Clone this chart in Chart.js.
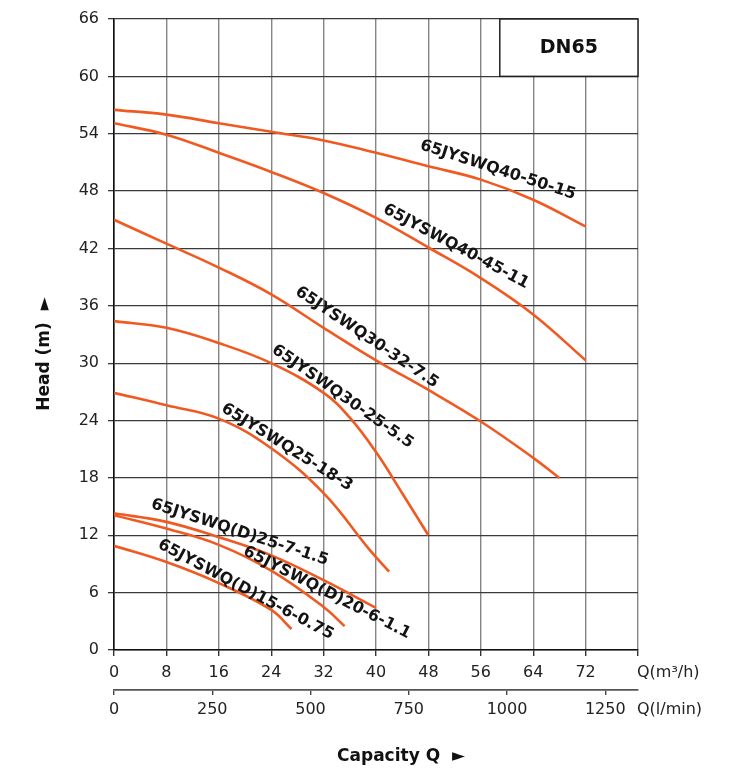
<!DOCTYPE html>
<html><head><meta charset="utf-8">
<script src="https://cdn.jsdelivr.net/npm/chart.js@4"></script>
<style>html,body{margin:0;padding:0;background:#fff}#wrap{width:738px;height:769px}</style>
</head><body><div id="wrap"><canvas id="c" width="738" height="769"></canvas></div>
<script>
// ---- data (Q in m3/h, H in m) ----
const seriesNames = ["65JYSWQ40-50-15","65JYSWQ40-45-11","65JYSWQ30-32-7.5","65JYSWQ30-25-5.5","65JYSWQ25-18-3","65JYSWQ(D)25-7-1.5","65JYSWQ(D)20-6-1.1","65JYSWQ(D)15-6-0.75"];
const q_40_50_15 = [0, 8, 16, 24, 32, 40, 48, 56, 64, 72];
const h_40_50_15 = [56.5, 56.0, 55.1, 54.2, 53.3, 52.0, 50.6, 49.2, 47.1, 44.3];
const q_40_45_11 = [0, 8, 16, 24, 32, 40, 48, 56, 64, 72];
const h_40_45_11 = [55.1, 53.9, 52.0, 50.0, 47.8, 45.2, 42.1, 38.9, 35.1, 30.3];
const q_30_32_75 = [0, 8, 16, 24, 32, 40, 48, 56, 64, 68];
const h_30_32_75 = [45.0, 42.5, 40.0, 37.2, 33.7, 30.3, 27.2, 23.9, 20.1, 18.0];
const q_30_25_55 = [0, 8, 16, 24, 32, 36, 40, 44, 48];
const h_30_25_55 = [34.4, 33.7, 32.1, 30.0, 26.9, 24.3, 20.7, 16.4, 12.0];
const q_25_18_3 = [0, 8, 16, 24, 32, 39, 42];
const h_25_18_3 = [26.9, 25.6, 24.2, 21.1, 16.4, 10.5, 8.2];
const q_d25_7_15 = [0, 8, 16, 24, 32, 40];
const h_d25_7_15 = [14.3, 13.4, 11.8, 9.9, 7.3, 4.4];
const q_d20_6_11 = [0, 8, 16, 24, 32, 35.2];
const h_d20_6_11 = [14.1, 12.7, 11.0, 8.3, 4.5, 2.5];
const q_d15_6_075 = [0, 8, 16, 24, 27.1];
const h_d15_6_075 = [10.9, 9.2, 7.0, 4.2, 2.2];
const xTicksM3h = [0, 8, 16, 24, 32, 40, 48, 56, 64, 72, 80];
const xTicksLmin = [0, 250, 500, 750, 1000, 1250];
const yTicks = [0, 6, 12, 18, 24, 30, 36, 42, 48, 54, 60, 66];
// label anchors in data units (Q, H) and rotation in degrees
const labelQ = [58.6, 52.2, 38.6, 34.9, 26.4, 19.2, 32.5, 20.1];
const labelH = [50.2, 42.2, 32.7, 26.5, 21.2, 12.3, 6.0, 6.3];
const labelAngle = [18, 28, 34, 35, 32, 18, 27, 28];

const allQ = [q_40_50_15,q_40_45_11,q_30_32_75,q_30_25_55,q_25_18_3,q_d25_7_15,q_d20_6_11,q_d15_6_075];
const allH = [h_40_50_15,h_40_45_11,h_30_32_75,h_30_25_55,h_25_18_3,h_d25_7_15,h_d20_6_11,h_d15_6_075];
const ORANGE = '#f05a22';
const datasets = allQ.map((qs,i)=>({
  label: seriesNames[i],
  data: qs.map((q,j)=>({x:q, y:allH[i][j]})),
  borderColor: ORANGE, borderWidth: 2.6, pointRadius: 0, showLine: true,
  tension: 0.4, fill: false
}));

const FONT = '"DejaVu Sans", sans-serif';
const overlay = {
  id: 'overlay',
  beforeDatasetsDraw(chart){
    const {ctx, scales:{x,y}} = chart;
    const l = x.getPixelForValue(58.9), r = x.getPixelForValue(80);
    const t = y.getPixelForValue(66), b = y.getPixelForValue(60);
    ctx.save();
    ctx.fillStyle = '#fff'; ctx.fillRect(l, t, r-l, b-t);
    ctx.strokeStyle = '#222'; ctx.lineWidth = 1.5; ctx.strokeRect(l, t, r-l, b-t);
    ctx.fillStyle = '#111'; ctx.font = 'bold 19px ' + FONT;
    ctx.textAlign = 'center'; ctx.textBaseline = 'middle';
    ctx.fillText('DN65', (l+r)/2, (t+b)/2);
    ctx.restore();
  },
  afterDatasetsDraw(chart){
    const {ctx, scales:{x,y,x2}} = chart;
    ctx.save();
    ctx.fillStyle = '#141414';
    ctx.font = 'bold 16px ' + FONT;
    ctx.textAlign = 'center'; ctx.textBaseline = 'middle';
    seriesNames.forEach((n,i)=>{
      ctx.save();
      ctx.translate(x.getPixelForValue(labelQ[i]), y.getPixelForValue(labelH[i]));
      ctx.rotate(labelAngle[i]*Math.PI/180);
      ctx.fillText(n, 0, 0);
      ctx.restore();
    });
    ctx.font = '16px ' + FONT; ctx.fillStyle = '#222'; ctx.textAlign = 'left';
    const xr = x.getPixelForValue(80);
    ctx.fillText('Q(m³/h)', xr - 1, y.getPixelForValue(0) + 23);
    ctx.fillText('Q(l/min)', xr - 1, x2.top + 20);
    ctx.font = 'bold 17px ' + FONT; ctx.fillStyle = '#111'; ctx.textAlign = 'center';
    ctx.fillText('Capacity Q  \u25BA', 401, 757);
    ctx.save();
    ctx.translate(45, 354); ctx.rotate(-Math.PI/2);
    ctx.fillText('Head (m)  \u25BA', 0, 0);
    ctx.restore();
    ctx.restore();
  }
};

new Chart(document.getElementById('c'), {
  type: 'scatter',
  data: { datasets },
  plugins: [overlay],
  options: {
    responsive: false, devicePixelRatio: 1, animation: false,
    layout: { padding: { left: 0, right: 100, top: 19, bottom: 43 } },
    plugins: { legend: { display: false }, tooltip: { enabled: false } },
    scales: {
      x: {
        type: 'linear', position: 'bottom', weight: 0, min: 0, max: 80,
        afterBuildTicks(s){ s.ticks = xTicksM3h.map(v=>({value:v})); },
        afterFit(s){ s.height = 40; },
        ticks: { font: { family: FONT, size: 16 }, color: '#222', padding: 7, maxRotation: 0,
                 callback: v => v === 80 ? '' : String(v) },
        grid: { color: '#858585', lineWidth: 1.4, tickLength: 6, tickColor: '#333' },
        border: { color: '#111', width: 1.6 }
      },
      x2: {
        type: 'linear', position: 'bottom', weight: 1, min: 0, max: 80*1000/60,
        afterBuildTicks(s){ s.ticks = xTicksLmin.map(v=>({value:v})); },
        afterFit(s){ s.height = 36; },
        ticks: { font: { family: FONT, size: 16 }, color: '#222', padding: 5, maxRotation: 0,
                 callback: v => String(v) },
        grid: { drawOnChartArea: false, drawTicks: true, tickLength: 5, color: '#444', tickColor: '#444', lineWidth: 1.4 },
        border: { color: '#555', width: 1.8 }
      },
      y: {
        type: 'linear', min: 0, max: 66,
        afterBuildTicks(s){ s.ticks = yTicks.map(v=>({value:v})); },
        afterFit(s){ s.width = 114; },
        ticks: { font: { family: FONT, size: 16 }, color: '#222', padding: 9 },
        grid: { color: '#3a3a3a', lineWidth: 1.3, tickLength: 6 },
        border: { color: '#111', width: 1.6 }
      }
    }
  }
});
</script></body></html>
